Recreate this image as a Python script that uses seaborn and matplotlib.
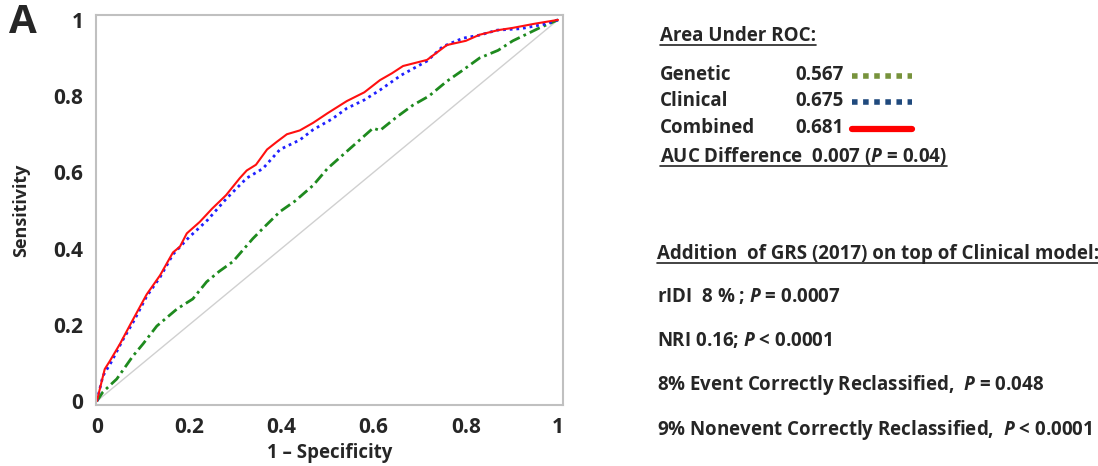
import numpy as np
import pandas as pd
import matplotlib
matplotlib.use('Agg')
import matplotlib.pyplot as plt
import seaborn as sns
from matplotlib.lines import Line2D

# ROC points (1 - specificity, sensitivity)
combined_fpr = [0, 0.008, 0.017, 0.028, 0.05, 0.072, 0.108, 0.137, 0.165, 0.18, 0.195, 0.223, 0.25, 0.28,
                0.31, 0.325, 0.345, 0.369, 0.39, 0.412, 0.44, 0.469, 0.5, 0.542, 0.58, 0.614, 0.64, 0.664,
                0.716, 0.759, 0.8, 0.83, 0.87, 0.902, 0.95, 1]
combined_tpr = [0, 0.04, 0.084, 0.105, 0.15, 0.2, 0.28, 0.33, 0.39, 0.405, 0.44, 0.47, 0.505, 0.54,
                0.585, 0.605, 0.62, 0.66, 0.68, 0.70, 0.71, 0.73, 0.755, 0.787, 0.81, 0.842, 0.86, 0.879,
                0.895, 0.934, 0.945, 0.961, 0.973, 0.979, 0.99, 1]
clinical_fpr = [0, 0.013, 0.03, 0.056, 0.08, 0.108, 0.137, 0.165, 0.2, 0.24, 0.28, 0.325, 0.36, 0.397,
                0.44, 0.469, 0.51, 0.542, 0.58, 0.614, 0.66, 0.716, 0.75, 0.794, 0.83, 0.868, 0.92,
                0.976, 1]
clinical_tpr = [0, 0.066, 0.1, 0.16, 0.21, 0.275, 0.325, 0.385, 0.43, 0.475, 0.53, 0.585, 0.61, 0.66,
                0.685, 0.712, 0.74, 0.768, 0.79, 0.816, 0.855, 0.892, 0.93, 0.952, 0.96, 0.973, 0.977,
                0.99, 1]
genetic_fpr = [0, 0.013, 0.043, 0.078, 0.1, 0.13, 0.174, 0.208, 0.238, 0.265, 0.295, 0.338, 0.36, 0.397,
               0.43, 0.469, 0.5, 0.542, 0.599, 0.614, 0.65, 0.685, 0.72, 0.759, 0.79, 0.83, 0.87, 0.902,
               0.96, 1]
genetic_tpr = [0, 0.024, 0.058, 0.118, 0.15, 0.197, 0.242, 0.268, 0.313, 0.34, 0.366, 0.426, 0.453, 0.497,
               0.525, 0.566, 0.61, 0.655, 0.716, 0.71, 0.745, 0.776, 0.8, 0.839, 0.865, 0.9, 0.92, 0.945,
               0.979, 1]

auc_labels = ['Genetic', 'Clinical', 'Combined']
auc_values = ['0.567', '0.675', '0.681']
stats_lines = [r'rIDI  8 % ; $\mathit{P}$ = 0.0007',
               r'NRI 0.16; $\mathit{P}$ < 0.0001',
               r'8% Event Correctly Reclassified,  $\mathit{P}$ = 0.048',
               r'9% Nonevent Correctly Reclassified,  $\mathit{P}$ < 0.0001']

sns.set_style('white')
plt.rcParams['font.family'] = ['Open Sans', 'DejaVu Sans']
plt.rcParams['font.weight'] = 'bold'
plt.rcParams['mathtext.fontset'] = 'custom'
plt.rcParams['mathtext.it'] = 'Open Sans:bold:italic'
plt.rcParams['mathtext.rm'] = 'Open Sans:bold'

fig = plt.figure(figsize=(10.98, 4.66), dpi=100)
ax = fig.add_axes([0.0874, 0.131, 0.4254, 0.837])

ax.plot([0, 1], [0, 1], color='#d0d0d0', lw=1)
df_g = pd.DataFrame({'x': genetic_fpr, 'y': genetic_tpr})
df_c = pd.DataFrame({'x': clinical_fpr, 'y': clinical_tpr})
df_m = pd.DataFrame({'x': combined_fpr, 'y': combined_tpr})
sns.lineplot(data=df_g, x='x', y='y', ax=ax, sort=False, estimator=None, color='#1e8a1e', lw=2,
             linestyle=(0, (4, 1.5, 1, 1.5)))
sns.lineplot(data=df_c, x='x', y='y', ax=ax, sort=False, estimator=None, color='#2020ff', lw=2,
             linestyle=(0, (1, 1.4)))
sns.lineplot(data=df_m, x='x', y='y', ax=ax, sort=False, estimator=None, color='#ff1010', lw=1.5)

ax.set_xlim(-0.002, 1.011)
ax.set_ylim(-0.01, 1.013)
ticks = [0, 0.2, 0.4, 0.6, 0.8, 1]
tick_text = ['0', '0.2', '0.4', '0.6', '0.8', '1']
ax.set_xticks(ticks, tick_text)
ax.set_yticks(ticks, tick_text)
ax.tick_params(direction='out', length=5, width=1, color='#b0b0b0', labelsize=15, pad=4)
for s in ax.spines.values():
    s.set_color('#c0c0c0')
    s.set_linewidth(1.5)
ax.set_xlabel('1 – Specificity', fontsize=13.4, fontweight='bold', labelpad=3)
ax.set_ylabel('Sensitivity', fontsize=13, fontweight='bold', labelpad=17)

fig.text(0.008, 0.952, 'A', fontsize=29, fontweight='bold', ha='left', va='center')

def fx(px):
    return px / 1098

def fy(py):
    return 1 - py / 466

fs = 13.5
underlined = []
underlined.append(fig.text(fx(660), fy(36), 'Area Under ROC:', fontsize=fs, va='center'))
rows_y = [75, 101, 128]
sample_styles = [dict(color='#77933c', lw=4, linestyle=(0, (1, 1))),
                 dict(color='#1f497d', lw=4, linestyle=(0, (1, 1))),
                 dict(color='#ff0000', lw=4.5, linestyle='-')]
for lab, val, y, st in zip(auc_labels, auc_values, rows_y, sample_styles):
    fig.text(fx(660), fy(y), lab, fontsize=fs, va='center')
    fig.text(fx(795), fy(y), val, fontsize=fs, va='center')
    fig.add_artist(Line2D([fx(852), fx(912)], [fy(y + 1), fy(y + 1)], transform=fig.transFigure, **st))
underlined.append(fig.text(fx(660), fy(156), r'AUC Difference  0.007 ($\mathit{P}$ = 0.04)', fontsize=fs, va='center'))
underlined.append(fig.text(fx(657), fy(254), 'Addition  of GRS (2017) on top of Clinical model:', fontsize=fs, va='center'))
for txt, y in zip(stats_lines, [297, 341, 385, 430]):
    fig.text(fx(657), fy(y), txt, fontsize=fs, va='center')

fig.canvas.draw()
r = fig.canvas.get_renderer()
for t in underlined:
    bb = t.get_window_extent(r).transformed(fig.transFigure.inverted())
    yy = bb.y0 + 0.002
    fig.add_artist(Line2D([bb.x0, bb.x1], [yy, yy], transform=fig.transFigure, color='#222222', lw=1.2))

fig.savefig('out.png', dpi=100)
